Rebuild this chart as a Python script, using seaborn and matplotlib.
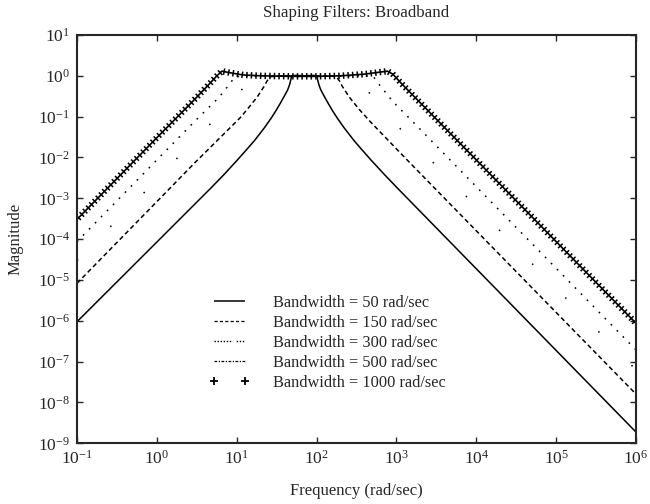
import numpy as np
import pandas as pd
import matplotlib
matplotlib.use("Agg")
import matplotlib.pyplot as plt
import seaborn as sns
from matplotlib import patheffects as pe
from matplotlib.lines import Line2D
from matplotlib.ticker import FixedLocator, NullLocator, LogFormatterSciNotation

# ---- data (frequency in rad/sec, magnitude) ----
freq_50 = [0.1, 1, 4.9, 7, 10.3, 13.6, 16.7, 22.3, 27.1, 30.6, 35, 39.8, 43.4, 45.8, 47.6, 48.5,
           55, 70, 90, 101, 103, 107, 113, 123, 140, 160, 181, 220, 294, 360, 474, 700, 1000,
           1e4, 1e5, 1e6]
mag_50 = [9.5e-7, 8.5e-5, 1.9e-3, 3.9e-3, 8.9e-3, 0.0164, 0.026, 0.054, 0.093, 0.135, 0.21, 0.33, 0.45, 0.6, 0.8, 1.0,
          1.02, 1.0, 1.02, 1.0, 0.8, 0.6, 0.45, 0.33, 0.21, 0.135, 0.093, 0.054, 0.026, 0.0164, 8.9e-3, 3.9e-3, 1.88e-3,
          1.88e-5, 1.88e-7, 1.88e-9]

freq_150 = [0.1, 1, 3, 11.1, 13.5, 18, 22, 24, 26, 35, 70, 140, 178, 193, 210, 257, 342, 417, 474, 1368, 1e4, 1e5, 1e6]
mag_150 = [8.3e-6, 8.3e-4, 7.5e-3, 0.095, 0.15, 0.3, 0.55, 0.75, 0.95, 1.0, 1.0, 1.0, 0.95, 0.75, 0.55, 0.3, 0.15, 0.098, 0.074, 8.6e-3, 1.6e-4, 1.6e-6, 1.6e-8]

freq_300 = [0.1, 0.746, 2.26, 5.67, 8.9, 12, 15.5, 30, 70, 200, 316, 408, 550, 1000, 4560, 1e5, 1e6]
mag_300 = [3.0e-5, 1.6e-3, 0.0155, 0.098, 0.25, 0.5, 0.97, 1.0, 1.0, 1.0, 0.97, 0.5, 0.25, 0.063, 3.0e-3, 6.3e-6, 6.3e-8]

freq_500 = [0.1, 1, 3, 5.93, 8, 9.5, 15, 70, 400, 516, 612, 826, 1000, 1507, 4570, 1e5, 1e6]
mag_500 = [8.7e-5, 8.7e-3, 0.078, 0.29, 0.6, 0.95, 1.0, 1.0, 1.0, 0.95, 0.6, 0.29, 0.19, 0.085, 9.2e-3, 1.93e-5, 1.93e-7]

freq_1000 = [0.1, 1, 3, 4.5, 5.5, 6.5, 8, 12, 20, 50, 100, 200, 400, 600, 770, 900, 1120, 1507, 1e4, 1e5, 1e6]
mag_1000 = [3.05e-4, 0.0305, 0.27, 0.62, 0.95, 1.3, 1.2, 1.05, 1.0, 0.97, 0.97, 1.0, 1.1, 1.22, 1.3, 1.1, 0.69, 0.38, 8.7e-3, 8.7e-5, 8.7e-7]

labels = ["Bandwidth = 50 rad/sec", "Bandwidth = 150 rad/sec", "Bandwidth = 300 rad/sec",
          "Bandwidth = 500 rad/sec", "Bandwidth = 1000 rad/sec"]
x_ticks = [1e-1, 1e0, 1e1, 1e2, 1e3, 1e4, 1e5, 1e6]
y_ticks = [1e-9, 1e-8, 1e-7, 1e-6, 1e-5, 1e-4, 1e-3, 1e-2, 1e-1, 1e0, 1e1]

series = [(freq_50, mag_50), (freq_150, mag_150), (freq_300, mag_300),
          (freq_500, mag_500), (freq_1000, mag_1000)]

sns.set_style("ticks")
plt.rcParams["font.family"] = ["Liberation Serif", "DejaVu Serif"]
plt.rcParams["mathtext.fontset"] = "stix"
plt.rcParams["axes.linewidth"] = 1.5
plt.rcParams["lines.solid_capstyle"] = "butt"

fig = plt.figure(figsize=(6.5, 5.04), dpi=100)
ax = fig.add_axes([0.1185, 0.1204, 0.86, 0.8102])
ax.set_xscale("log")
ax.set_yscale("log")

dash_styles = [None, (3.0, 2.0), (1.0, 30.0), (1.1, 4.5), None]
for i, ((f, m), lab) in enumerate(zip(series, labels)):
    df = pd.DataFrame({"freq": f, "mag": m})
    sns.lineplot(data=df, x="freq", y="mag", ax=ax, color="black",
                 linewidth=1.1, sort=False, estimator=None, legend=False)
    line = ax.lines[-1]
    if dash_styles[i] is not None:
        line.set_linewidth(1.1)
        line.set_dashes(dash_styles[i])
    if i == 4:
        line.set_linewidth(1.2)
        line.set_path_effects([
            pe.Normal(),
            pe.TickedStroke(spacing=3.3, angle=90, length=0.7, linewidth=1.1),
            pe.TickedStroke(spacing=3.3, angle=-90, length=0.7, linewidth=1.1),
        ])

ax.set_xlim(1e-1, 1e6)
ax.set_ylim(1e-9, 1e1)
ax.xaxis.set_major_locator(FixedLocator(x_ticks))
ax.yaxis.set_major_locator(FixedLocator(y_ticks))
ax.xaxis.set_minor_locator(NullLocator())
ax.yaxis.set_minor_locator(NullLocator())
ax.xaxis.set_major_formatter(LogFormatterSciNotation())
ax.yaxis.set_major_formatter(LogFormatterSciNotation())
ax.tick_params(which="major", direction="in", top=True, right=True,
               length=4, width=1.0, labelsize=12.5, pad=5)

ax.set_title("Shaping Filters: Broadband", fontsize=12.2, pad=13)
ax.set_xlabel("Frequency (rad/sec)", fontsize=12, labelpad=11)
ax.set_ylabel("Magnitude", fontsize=12, labelpad=10)

handles = [
    Line2D([], [], color="black", lw=1.1),
    Line2D([], [], color="black", lw=0.9, dashes=(2.5, 1.8)),
    Line2D([], [], color="black", lw=1.0, dashes=(1.0, 1.2, 1.0, 1.2, 1.0, 1.2, 1.0, 1.2, 1.0, 1.2, 1.0, 4.0)),
    Line2D([], [], color="black", lw=0.9, dashes=(2.2, 1.2, 1.0, 1.2)),
    Line2D([], [], color="black", lw=0, marker="+", markersize=5.5, markeredgewidth=1.3),
]
leg = fig.legend(handles, labels, loc="upper left", bbox_to_anchor=(0.311, 0.428),
                 frameon=False, fontsize=11.8, handlelength=2.5, handletextpad=1.4,
                 labelspacing=0.24, numpoints=2, borderaxespad=0)

fig.savefig("out.png", dpi=100)
